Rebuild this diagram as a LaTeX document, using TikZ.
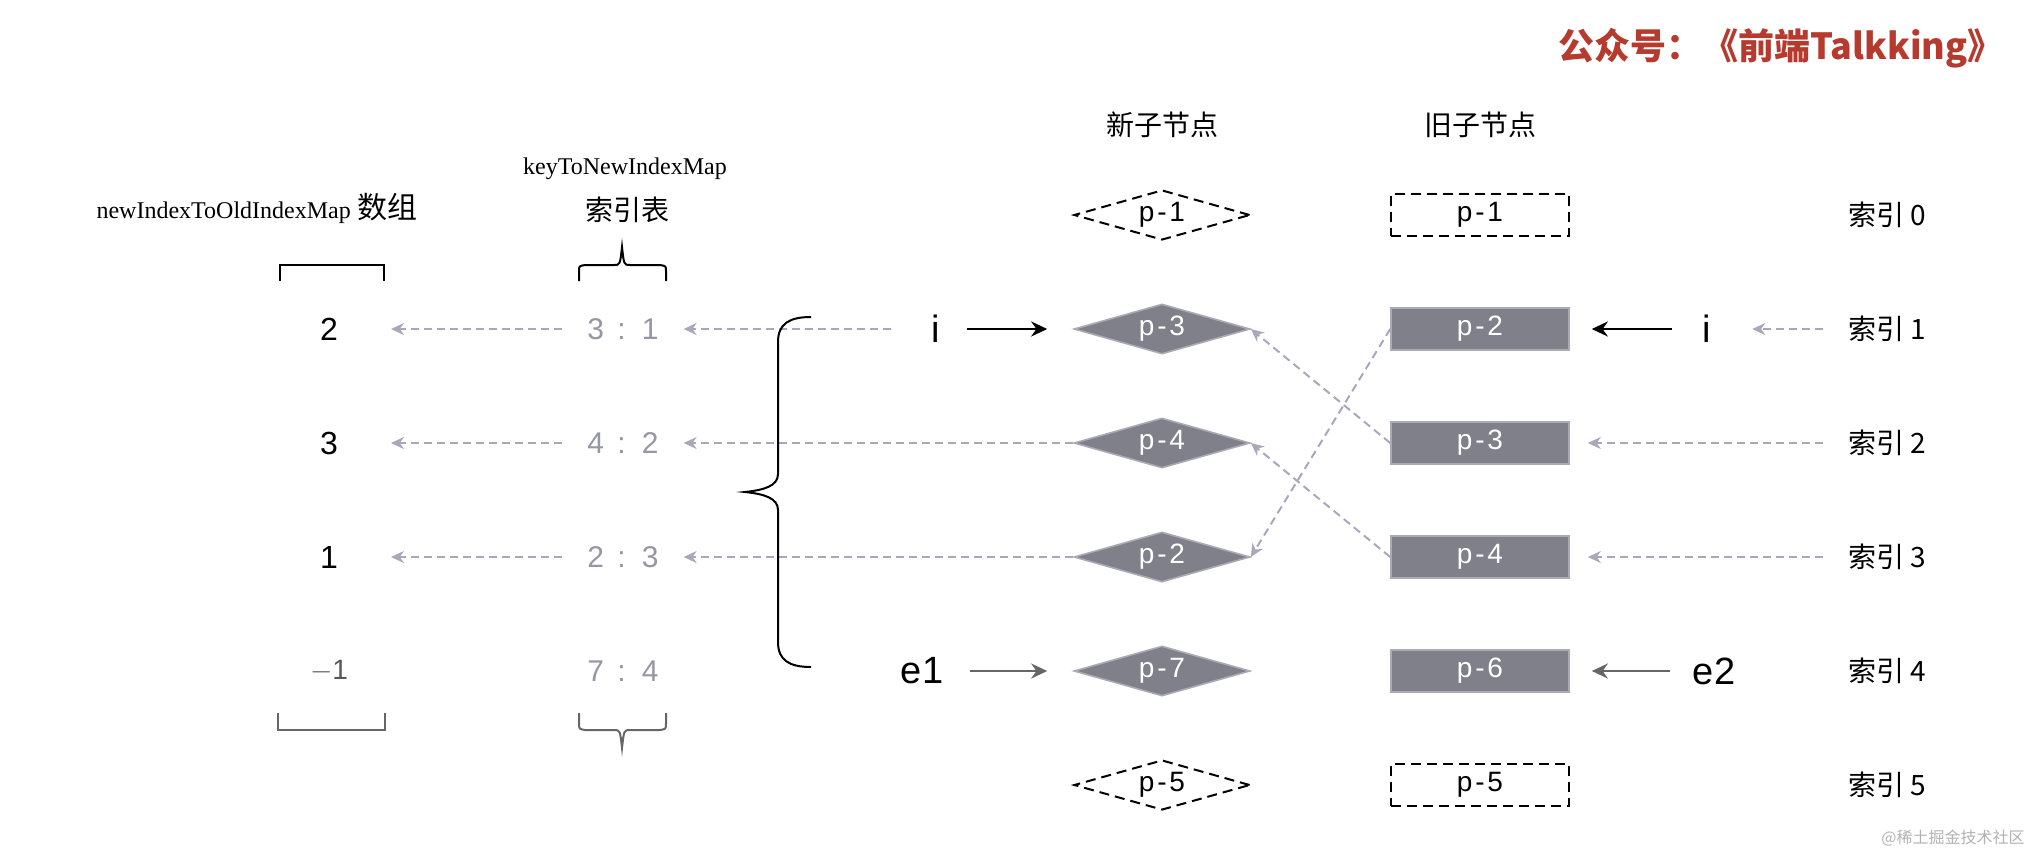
\documentclass[tikz,border=0pt]{standalone}
\usepackage{fontspec}
\setmainfont{Liberation Sans}
\newfontfamily\cjk{Noto Sans CJK SC}
\newfontfamily\hdrfont{Liberation Serif}
\newfontfamily\tagfont[LetterSpace=10]{Liberation Sans}
\usepackage{xcolor}
\usepackage{tikz}
\usetikzlibrary{shapes.geometric, positioning, arrows.meta}
\definecolor{nodegray}{RGB}{128,128,138}
\definecolor{edgegray}{RGB}{170,170,180}
\definecolor{linkgray}{RGB}{168,168,188}
\definecolor{keygray}{RGB}{150,150,165}
\definecolor{titlered}{RGB}{183,58,46}

\begin{document}
\begin{tikzpicture}[x=0.5pt, y=-0.5pt, >={Stealth[length=8pt, width=7.5pt]}, node distance=57pt,
    newnode/.style={diamond, shape aspect=3.5, draw=edgegray, line width=0.8pt, fill=nodegray, text=white, inner sep=0pt, minimum width=88pt, minimum height=25pt, font=\tagfont\fontsize{14}{14}\selectfont},
    oldnode/.style={rectangle, draw=edgegray, line width=0.8pt, fill=nodegray, text=white, inner sep=0pt, minimum width=89pt, minimum height=21pt, font=\tagfont\fontsize{14}{14}\selectfont},
    ghost/.style={draw=black, fill=white, text=black, line width=1pt, dash pattern=on 5pt off 3pt},
    label/.style={font=\cjk\fontsize{14}{14}\selectfont},
    val/.style={font=\fontsize{16}{16}\selectfont},
    pair/.style={text=keygray, font=\fontsize{15}{15}\selectfont},
    cursor/.style={font=\fontsize{19}{19}\selectfont},
    pointer/.style={->, line width=1.3pt},
    link/.style={-{Stealth[length=6.5pt, width=6pt]}, draw=linkgray, line width=1pt, dash pattern=on 4pt off 2.5pt}]
  \useasboundingbox (0,0) rectangle (2028,852);

  \node[text=titlered, font=\cjk\bfseries\fontsize{18}{18}\selectfont] (title) at (1781,48) {公众号：《前端Talkking》};
  \node[text=black!30, font=\cjk\fontsize{8}{8}\selectfont] (wm) at (1953,838) {@稀土掘金技术社区};

  \node[label] (newHead) at (1162,125) {新子节点};
  \node[label] (oldHead) at (1480,125) {旧子节点};
  \node[font=\fontsize{12}{12}\selectfont] (arrHead) at (257,208) {{\hdrfont newIndexToOldIndexMap} {\cjk\fontsize{15}{15}\selectfont 数组}};
  \node[font=\hdrfont\fontsize{12}{12}\selectfont] (keyHead) at (625,169) {keyToNewIndexMap};
  \node[label] (tblHead) at (627,210) {索引表};

  \node[newnode, ghost] (n1) at (1162,215) {p-1};
  \node[newnode, below of=n1] (n3) {p-3};
  \node[newnode, below of=n3] (n4) {p-4};
  \node[newnode, below of=n4] (n2) {p-2};
  \node[newnode, below of=n2] (n7) {p-7};
  \node[newnode, ghost, below of=n7] (n5) {p-5};

  \node[oldnode, ghost] (o1) at (1480,215) {p-1};
  \node[oldnode, below of=o1] (o2) {p-2};
  \node[oldnode, below of=o2] (o3) {p-3};
  \node[oldnode, below of=o3] (o4) {p-4};
  \node[oldnode, below of=o4] (o6) {p-6};
  \node[oldnode, ghost, below of=o6] (o5) {p-5};

  \node[label] (idx0) at (1887,215) {索引 0};
  \node[label, below of=idx0] (idx1) {索引 1};
  \node[label, below of=idx1] (idx2) {索引 2};
  \node[label, below of=idx2] (idx3) {索引 3};
  \node[label, below of=idx3] (idx4) {索引 4};
  \node[label, below of=idx4] (idx5) {索引 5};

  \node[val] (v1) at (329,329) {2};
  \node[val, below of=v1] (v2) {3};
  \node[val, below of=v2] (v3) {1};
  \node[val, text=black!65, below of=v3] (v4) {\fontsize{14}{14}\selectfont $-$1};

  \node[pair] (kv1) at (623,329) {3 \,:\, 1};
  \node[pair, below of=kv1] (kv2) {4 \,:\, 2};
  \node[pair, below of=kv2] (kv3) {2 \,:\, 3};
  \node[pair, below of=kv3] (kv4) {7 \,:\, 4};

  \node[cursor] (iL) at (936,329) {i};
  \node[cursor] (e1) at (922,671) {e1};
  \node[cursor] (iR) at (1707,329) {i};
  \node[cursor] (e2) at (1714,671) {e2};

  \draw[pointer, shorten <=10pt, shorten >=13pt] (iL) -- (n3);
  \draw[pointer, draw=black!60, shorten <=10pt, shorten >=13pt] (e1) -- (n7);
  \draw[pointer, shorten <=12pt, shorten >=11pt] (iR) -- (o2);
  \draw[pointer, draw=black!60, shorten <=8pt, shorten >=11pt] (e2) -- (o6);

  \draw[link, shorten <=9pt, shorten >=17pt] (idx1) -- (iR);
  \draw[link, shorten <=9pt, shorten >=9pt] (idx2) -- (o3);
  \draw[link, shorten <=9pt, shorten >=9pt] (idx3) -- (o4);

  \draw[link] (o2.west) -- (n2.east);
  \draw[link] (o3.west) -- (n3.east);
  \draw[link] (o4.west) -- (n4.east);

  \draw[link, shorten <=17pt, shorten >=9pt] (iL) -- (kv1);
  \draw[link, shorten >=9pt] (n4) -- (kv2);
  \draw[link, shorten >=9pt] (n2) -- (kv3);
  \draw[link, shorten <=9pt, shorten >=23pt] (kv1) -- (v1);
  \draw[link, shorten <=9pt, shorten >=23pt] (kv2) -- (v2);
  \draw[link, shorten <=9pt, shorten >=23pt] (kv3) -- (v3);

  \draw[line width=1pt] (280,281) -- (280,265) -- (384,265) -- (384,281);
  \draw[line width=1pt, draw=black!60] (278,713) -- (278,730) -- (385,730) -- (385,713);
  \draw[line width=1pt] (579,281) -- (579,271) .. controls (579,266) .. (585,265) -- (614,265) .. controls (620,265) .. (622,247) .. controls (624,265) .. (630,265) -- (660,265) .. controls (666,266) .. (666,271) -- (666,281);
  \draw[line width=1pt, draw=black!60] (579,713) -- (579,723) .. controls (579,729) .. (585,730) -- (614,730) .. controls (620,730) .. (622,748) .. controls (624,730) .. (630,730) -- (660,730) .. controls (666,729) .. (666,723) -- (666,713);
  \draw[line width=1pt] (811,317) .. controls (789,317) and (778,324) .. (778,342) -- (778,474) .. controls (778,486) and (764,490) .. (745,492) .. controls (764,494) and (778,498) .. (778,510) -- (778,642) .. controls (778,660) and (789,667) .. (811,667);
\end{tikzpicture}
\end{document}
